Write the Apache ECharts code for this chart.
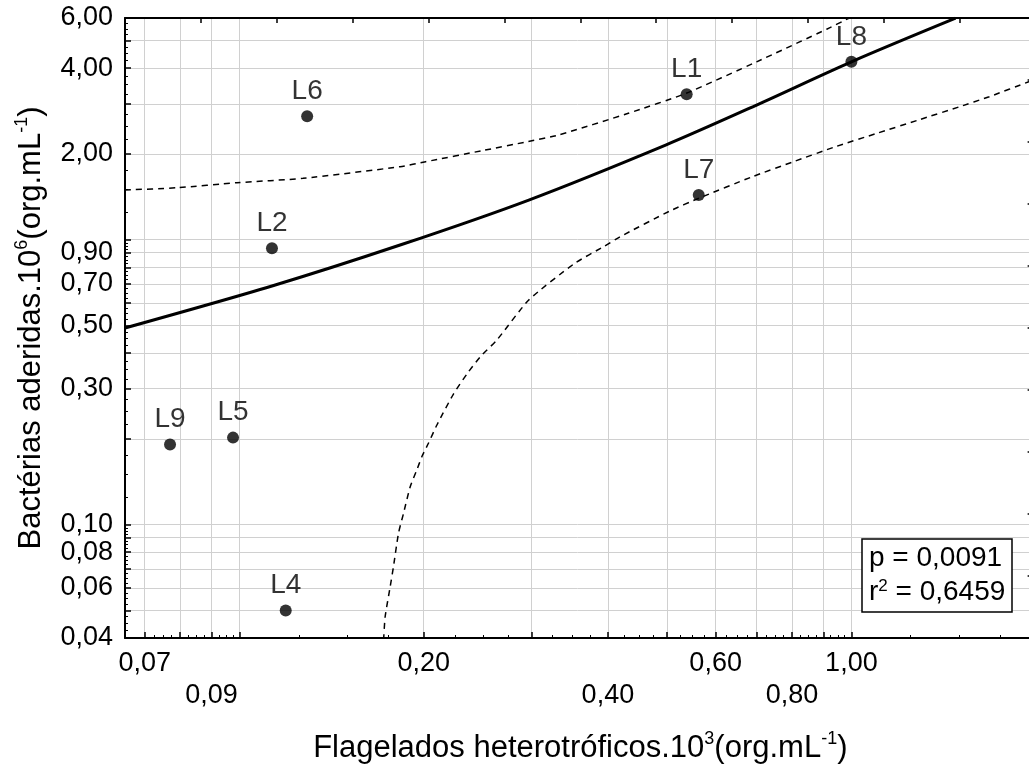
<!DOCTYPE html>
<html><head><meta charset="utf-8">
<script src="https://cdn.jsdelivr.net/npm/echarts@6/dist/echarts.min.js"></script>
<style>html,body{margin:0;padding:0;background:#fff}#c{width:1029px;height:771px}</style>
</head><body><div id="c"></div>
<script>
// ---- data ----
const siteNames   = ['L1', 'L2', 'L4', 'L5', 'L6', 'L7', 'L8', 'L9'];
const flagelados  = [0.538, 0.113, 0.119, 0.0976, 0.129, 0.563, 1.0, 0.077];
const bacterias   = [3.24, 0.933, 0.050, 0.202, 2.71, 1.435, 4.21, 0.191];

const fitX = [0.065, 0.113, 0.183, 0.297, 0.497, 0.70, 1.0, 1.48];
const fitY = [0.49, 0.688, 0.958, 1.378, 2.149, 2.97, 4.21, 5.99];

const upperX = [0.065, 0.079, 0.099, 0.127, 0.183, 0.2015, 0.251, 0.293, 0.332, 0.432, 0.537, 0.70, 0.913, 0.99];
const upperY = [1.494, 1.522, 1.585, 1.642, 1.804, 1.878, 2.06, 2.2, 2.33, 2.778, 3.265, 4.21, 5.49, 5.99];

const lowerX = [0.172, 0.173, 0.1763, 0.1785, 0.1819, 0.1854, 0.1901, 0.1949, 0.1986, 0.2036, 0.2102, 0.2237, 0.2353, 0.2473, 0.2634, 0.297, 0.353, 0.3935, 0.4187, 0.505, 0.564, 0.689, 0.804, 0.942, 1.101, 1.287, 1.503, 1.68, 1.95, 2.0];
const lowerY = [0.0394, 0.0475, 0.0605, 0.0712, 0.0932, 0.1096, 0.1358, 0.1555, 0.173, 0.193, 0.2237, 0.2873, 0.3378, 0.3876, 0.4446, 0.614, 0.826, 0.945, 1.024, 1.261, 1.40, 1.664, 1.878, 2.121, 2.363, 2.631, 2.930, 3.176, 3.586, 3.66];

// ---- ticks ----
const xMajorTicks = [0.07, 0.08, 0.09, 0.1, 0.2, 0.3, 0.4, 0.5, 0.6, 0.7, 0.8, 0.9, 1.0, 2.0];
const xLabelsRow1 = [0.07, 0.2, 0.6, 1.0];
const xLabelsRow2 = [0.09, 0.4, 0.8];
const yMajorTicks = [0.04, 0.05, 0.06, 0.07, 0.08, 0.09, 0.1, 0.2, 0.3, 0.4, 0.5, 0.6, 0.7, 0.8, 0.9, 1, 2, 3, 4, 5, 6];
const yLabels = [0.04, 0.06, 0.08, 0.1, 0.3, 0.5, 0.7, 0.9, 2, 4, 6];

const statP = 'p = 0,0091';
const statR = ' = 0,6459';

function quarterSteps(majors) {
  const out = [];
  for (let i = 0; i < majors.length - 1; i++) {
    const a = majors[i], b = majors[i + 1];
    for (let k = 1; k < 4; k++) out.push(+(a + (b - a) * k / 4).toFixed(6));
  }
  return out;
}
const xMinorTicks = quarterSteps(xMajorTicks);
const yMinorTicks = quarterSteps(yMajorTicks);

const FONT = '"Liberation Sans", Arial, Helvetica, sans-serif';
const fmt = v => Number(v).toFixed(2).replace('.', ',');
const zip = (a, b) => a.map((v, i) => [v, b[i]]);

const X_MIN = 0.065, X_MAX = 2.0, Y_MIN = 0.04, Y_MAX = 6.0;
const blackLine = { show: true, onZero: false, lineStyle: { color: '#000', width: 2 } };
const noLine = { show: false, onZero: false };
const tickFont = { fontSize: 27, fontFamily: FONT, color: '#000' };
const gridLineStyle = { color: '#d0d0d0', width: 1, type: 'solid' };

const richTitle = {
  t: { fontSize: 31, fontFamily: FONT, color: '#000', lineHeight: 36 },
  s: { fontSize: 18, fontFamily: FONT, color: '#000', verticalAlign: 'top', lineHeight: 36 }
};

const chart = echarts.init(document.getElementById('c'), null, { renderer: 'canvas' });
chart.setOption({
  animation: false,
  backgroundColor: '#fff',
  grid: { left: 125, top: 18, right: -6.6, bottom: 133, containLabel: false, outerBoundsMode: 'none' },
  title: {
    text: '{a|' + statP + '}\n{a|r}{s|2}{a|' + statR + '}',
    left: 862, top: 536,
    padding: [5, 7, 6, 7],
    borderColor: '#000', borderWidth: 1.5, backgroundColor: '#fff',
    textStyle: {
      fontWeight: 'normal',
      rich: {
        a: { fontSize: 28, fontWeight: 'normal', fontFamily: FONT, color: '#000', lineHeight: 34 },
        s: { fontSize: 17, fontWeight: 'normal', fontFamily: FONT, color: '#000', lineHeight: 34, verticalAlign: 'top', padding: [3, 0, 0, 0] }
      }
    }
  },
  xAxis: [
    { // main: major ticks, vertical grid, first row of labels, title
      type: 'log', logBase: 10, min: X_MIN, max: X_MAX, position: 'bottom',
      axisLine: blackLine,
      axisTick: { show: true, inside: true, length: 6, customValues: xMajorTicks, lineStyle: { color: '#000', width: 1.5 } },
      splitLine: { show: true, lineStyle: gridLineStyle },
      minorTick: { show: false }, minorSplitLine: { show: false },
      axisLabel: Object.assign({ customValues: xLabelsRow1, formatter: fmt, margin: 12 }, tickFont),
      name: '{t|Flagelados heterotróficos.10}{s|3}{t|(org.mL}{s|-1}{t|)}',
      nameLocation: 'middle', nameGap: 92,
      nameTextStyle: { rich: richTitle }
    },
    { // second row of labels
      type: 'log', logBase: 10, min: X_MIN, max: X_MAX, position: 'bottom',
      axisLine: noLine, axisTick: { show: false }, splitLine: { show: false },
      axisLabel: Object.assign({ customValues: xLabelsRow2, formatter: fmt, margin: 44 }, tickFont)
    },
    { // minor ticks
      type: 'log', logBase: 10, min: X_MIN, max: X_MAX, position: 'bottom',
      axisLine: noLine, splitLine: { show: false },
      axisTick: { show: true, inside: true, length: 3, customValues: xMinorTicks, lineStyle: { color: '#000', width: 1 } },
      axisLabel: { show: false }
    },
    { // top frame
      type: 'value', min: 0, max: 12, interval: 1, position: 'top',
      axisLine: blackLine,
      axisTick: { show: true, inside: true, length: 5, lineStyle: { color: '#000', width: 1.5 } },
      axisLabel: { show: false }, splitLine: { show: false }
    }
  ],
  yAxis: [
    {
      type: 'log', logBase: 10, min: Y_MIN, max: Y_MAX, position: 'left',
      axisLine: blackLine,
      axisTick: { show: true, inside: true, length: 6, customValues: yMajorTicks, lineStyle: { color: '#000', width: 1.5 } },
      splitLine: { show: true, lineStyle: gridLineStyle },
      minorTick: { show: false }, minorSplitLine: { show: false },
      axisLabel: Object.assign({ customValues: yLabels, formatter: fmt, margin: 12 }, tickFont),
      name: '{t|Bactérias aderidas.10}{s|6}{t|(org.mL}{s|-1}{t|)}',
      nameLocation: 'middle', nameGap: 76, nameRotate: 90,
      nameTextStyle: { rich: richTitle }
    },
    {
      type: 'log', logBase: 10, min: Y_MIN, max: Y_MAX, position: 'left',
      axisLine: noLine, splitLine: { show: false },
      axisTick: { show: true, inside: true, length: 3, customValues: yMinorTicks, lineStyle: { color: '#000', width: 1 } },
      axisLabel: { show: false }
    },
    { // right frame
      type: 'value', min: 0, max: 10, interval: 1, position: 'right',
      axisLine: blackLine,
      axisTick: { show: true, inside: true, length: 8, lineStyle: { color: '#000', width: 1.5 } },
      axisLabel: { show: false }, splitLine: { show: false }
    }
  ],
  series: [
    {
      type: 'line', name: 'upper', xAxisIndex: 0, yAxisIndex: 0,
      data: zip(upperX, upperY), showSymbol: false, smooth: 0.2, clip: true,
      lineStyle: { color: '#000', width: 1.5, type: [6, 5] }, z: 3
    },
    {
      type: 'line', name: 'lower', xAxisIndex: 0, yAxisIndex: 0,
      data: zip(lowerX, lowerY), showSymbol: false, smooth: 0.2, clip: true,
      lineStyle: { color: '#000', width: 1.5, type: [6, 5] }, z: 3
    },
    {
      type: 'line', name: 'fit', xAxisIndex: 0, yAxisIndex: 0,
      data: zip(fitX, fitY), showSymbol: false, smooth: 0.3, clip: true,
      lineStyle: { color: '#000', width: 3 }, z: 4
    },
    {
      type: 'scatter', name: 'sites', xAxisIndex: 0, yAxisIndex: 0,
      data: flagelados.map((x, i) => ({ name: siteNames[i], value: [x, bacterias[i]] })),
      symbol: 'circle', symbolSize: 12,
      itemStyle: { color: '#000' },
      label: { show: true, position: 'top', distance: 5, formatter: '{b}', fontSize: 28, fontFamily: FONT, color: '#000' },
      z: 5
    }
  ]
});
</script>
</body></html>
